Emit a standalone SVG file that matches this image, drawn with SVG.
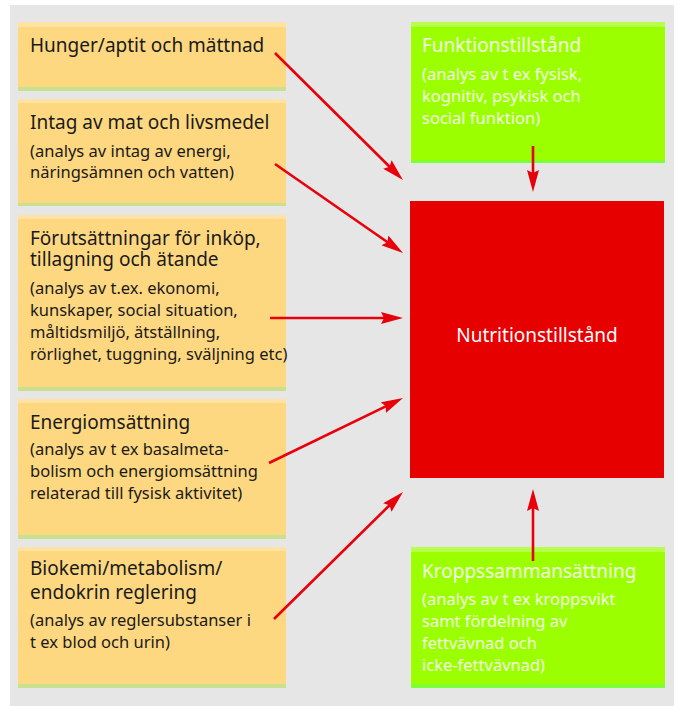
<svg xmlns="http://www.w3.org/2000/svg" width="677" height="706" viewBox="0 0 677 706">
<defs>
<marker id="ah" markerUnits="userSpaceOnUse" markerWidth="22" markerHeight="12" refX="12" refY="6" orient="auto">
<path d="M0,0 L22,6 L0,12 L3,6 z" fill="#E8000A"/>
</marker>
<style>
.bg{fill:#E6E6E6}
.ob{fill:#FED881}
.ot{fill:#FEE3A5}
.obs{fill:#C9E08F}
.gb{fill:#9BFF00}
.gt{fill:#B6FF4C}
.gbs{fill:#7DFF33}
.rb{fill:#E60000}
text{font-family:"Noto Sans","Open Sans","Liberation Sans",sans-serif}
.t{font-size:19px;fill:#1a1a1a}
.s{font-size:16.5px;fill:#1a1a1a}
.tw{font-size:19px;fill:#F4FFE6}
.sw{font-size:16.5px;fill:#F4FFE6}
.rt{font-size:19px;fill:#FFFFFF}
.c{stroke:#E8000A;stroke-width:2.6;fill:none;marker-end:url(#ah)}
</style>
</defs>
<rect class="bg" x="10" y="5" width="664" height="701"/>

<g id="hunger">
<rect class="ob" x="18" y="22" width="268" height="69"/>
<rect class="ot" x="18" y="22" width="268" height="5"/>
<rect class="obs" x="18" y="87" width="268" height="4"/>
<text class="t" x="30" y="52">Hunger/aptit och mättnad</text>
</g>

<g id="intag">
<rect class="ob" x="18" y="99" width="268" height="107"/>
<rect class="ot" x="18" y="99" width="268" height="4"/>
<rect class="obs" x="18" y="203" width="268" height="3"/>
<text class="t" x="30" y="129">Intag av mat och livsmedel</text>
<text class="s" x="30" y="157">(analys av intag av energi,</text>
<text class="s" x="30" y="178">näringsämnen och vatten)</text>
</g>

<g id="forutsattningar">
<rect class="ob" x="18" y="215" width="268" height="176"/>
<rect class="ot" x="18" y="215" width="268" height="4"/>
<rect class="obs" x="18" y="387" width="268" height="4"/>
<text class="t" x="30" y="245">Förutsättningar för inköp,</text>
<text class="t" x="30" y="266">tillagning och ätande</text>
<text class="s" x="30" y="294">(analys av t.ex. ekonomi,</text>
<text class="s" x="30" y="316">kunskaper, social situation,</text>
<text class="s" x="30" y="338">måltidsmiljö, ätställning,</text>
<text class="s" x="30" y="360">rörlighet, tuggning, sväljning etc)</text>
</g>

<g id="energi">
<rect class="ob" x="18" y="399" width="268" height="140"/>
<rect class="ot" x="18" y="399" width="268" height="4"/>
<rect class="obs" x="18" y="535" width="268" height="4"/>
<text class="t" x="30" y="429">Energiomsättning</text>
<text class="s" x="30" y="455">(analys av t ex basalmeta-</text>
<text class="s" x="30" y="477">bolism och energiomsättning</text>
<text class="s" x="30" y="499">relaterad till fysisk aktivitet)</text>
</g>

<g id="biokemi">
<rect class="ob" x="18" y="547" width="268" height="141"/>
<rect class="ot" x="18" y="547" width="268" height="4"/>
<rect class="obs" x="18" y="684" width="268" height="4"/>
<text class="t" x="30" y="575">Biokemi/metabolism/</text>
<text class="t" x="30" y="599">endokrin reglering</text>
<text class="s" x="30" y="626">(analys av reglersubstanser i</text>
<text class="s" x="30" y="648">t ex blod och urin)</text>
</g>

<g id="funktion">
<rect class="gb" x="411" y="22" width="254" height="141"/>
<rect class="gt" x="411" y="22" width="254" height="5"/>
<rect class="gbs" x="411" y="160" width="254" height="3"/>
<text class="tw" x="422" y="52">Funktionstillstånd</text>
<text class="sw" x="422" y="80">(analys av t ex fysisk,</text>
<text class="sw" x="422" y="102">kognitiv, psykisk och</text>
<text class="sw" x="422" y="124">social funktion)</text>
</g>

<g id="nutrition">
<rect class="rb" x="410" y="201" width="254" height="277"/>
<text class="rt" x="537" y="342" text-anchor="middle">Nutritionstillstånd</text>
</g>

<g id="kropp">
<rect class="gb" x="411" y="547" width="254" height="141"/>
<rect class="gt" x="411" y="547" width="254" height="5"/>
<rect class="gbs" x="411" y="684" width="254" height="4"/>
<text class="tw" x="422" y="578">Kroppssammansättning</text>
<text class="sw" x="422" y="605">(analys av t ex kroppsvikt</text>
<text class="sw" x="422" y="627">samt fördelning av</text>
<text class="sw" x="422" y="649">fettvävnad och</text>
<text class="sw" x="422" y="671">icke-fettvävnad)</text>
</g>

<g id="connectors">
<line class="c" x1="275" y1="53" x2="395.9" y2="173"/>
<line class="c" x1="275" y1="164" x2="394.8" y2="247.3"/>
<line class="c" x1="270" y1="318" x2="393" y2="318"/>
<line class="c" x1="269" y1="463" x2="394" y2="402.4"/>
<line class="c" x1="274" y1="619" x2="395.9" y2="499"/>
<line class="c" x1="533" y1="146" x2="533" y2="182"/>
<line class="c" x1="533" y1="561" x2="533" y2="499"/>
</g>
</svg>
